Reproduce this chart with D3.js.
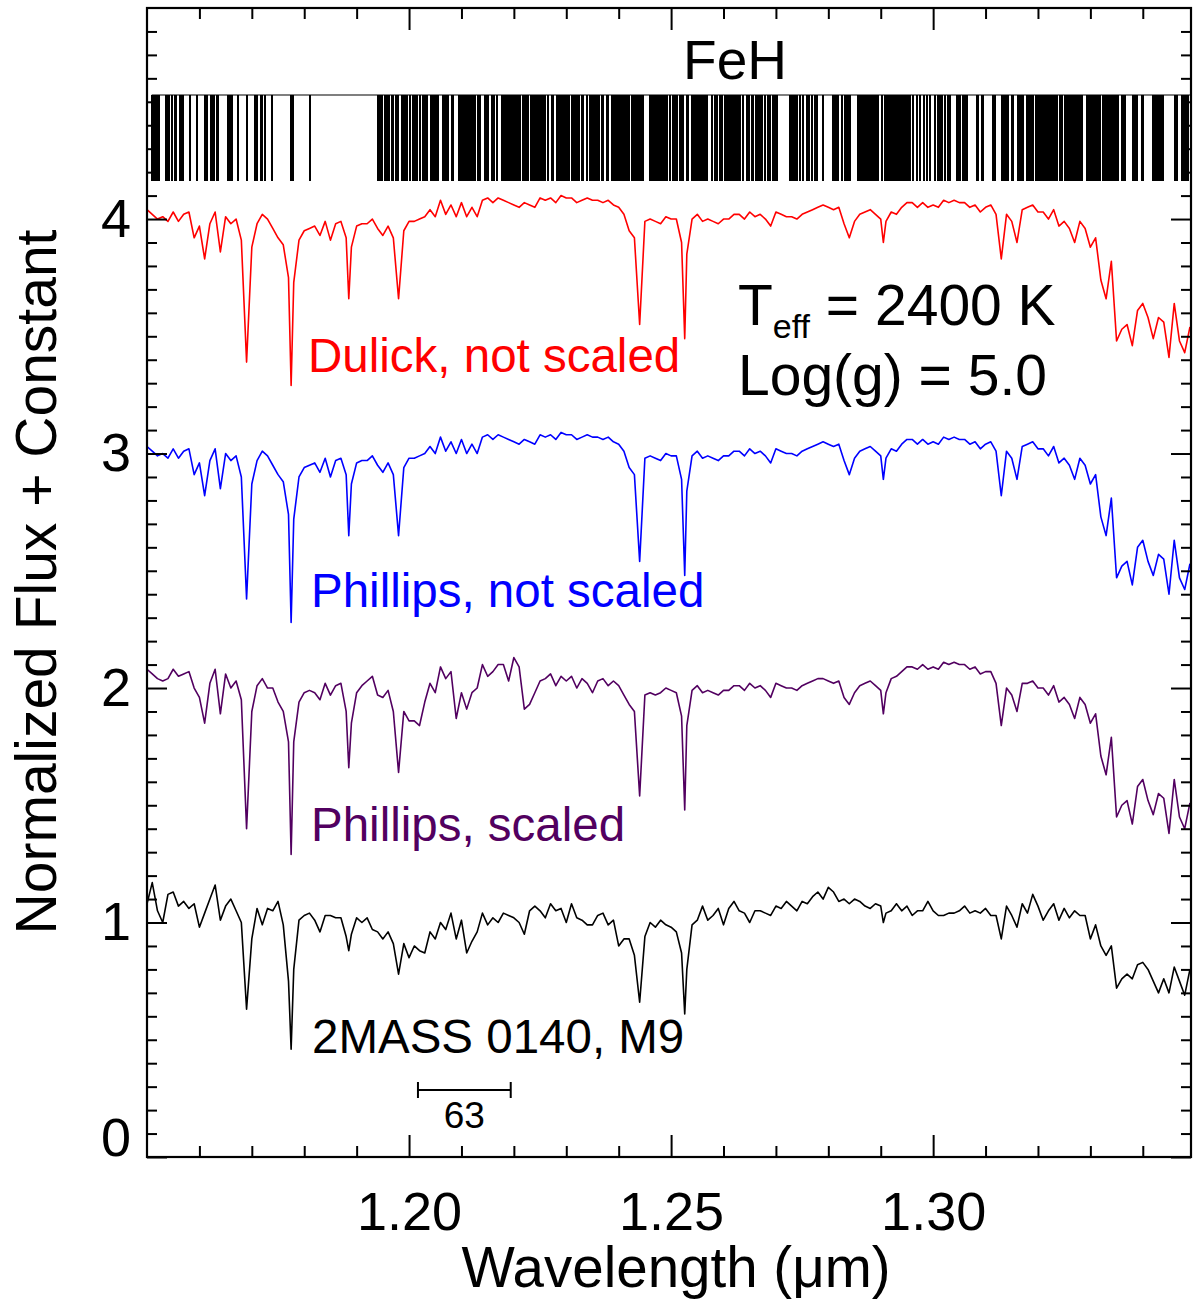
<!DOCTYPE html>
<html>
<head>
<meta charset="utf-8">
<script src="https://cdn.jsdelivr.net/npm/d3@7/dist/d3.min.js"></script>
<style>
  body { margin: 0; background: #fff; }
  svg text { font-family: "Liberation Sans", Arial, Helvetica, sans-serif; fill: #000; }
</style>
</head>
<body>
<svg width="1199" height="1303"></svg>
<script>
// wavelength grid (micron), shared by the four spectra
const wave = [
  1.150, 1.151, 1.152, 1.153, 1.154, 1.155, 1.156, 1.157, 1.158, 1.159,
  1.160, 1.161, 1.162, 1.163, 1.164, 1.165, 1.166, 1.167, 1.168, 1.169,
  1.170, 1.171, 1.172, 1.173, 1.174, 1.175, 1.176, 1.177, 1.1775, 1.178, 1.179,
  1.180, 1.181, 1.182, 1.183, 1.184, 1.185, 1.186, 1.187, 1.188, 1.1885, 1.189,
  1.190, 1.191, 1.192, 1.193, 1.194, 1.195, 1.196, 1.197, 1.198, 1.199,
  1.200, 1.201, 1.202, 1.203, 1.204, 1.205, 1.206, 1.207, 1.208, 1.209,
  1.210, 1.211, 1.212, 1.213, 1.214, 1.215, 1.216, 1.217, 1.218, 1.219,
  1.220, 1.221, 1.222, 1.223, 1.224, 1.225, 1.226, 1.227, 1.228, 1.229,
  1.230, 1.231, 1.232, 1.233, 1.234, 1.235, 1.236, 1.237, 1.238, 1.239,
  1.240, 1.241, 1.242, 1.243, 1.244, 1.245, 1.246, 1.247, 1.248, 1.249,
  1.250, 1.251, 1.252, 1.2526, 1.253, 1.254, 1.255, 1.256, 1.257, 1.258, 1.259,
  1.260, 1.261, 1.262, 1.263, 1.264, 1.265, 1.266, 1.267, 1.268, 1.269,
  1.270, 1.271, 1.272, 1.273, 1.274, 1.275, 1.276, 1.277, 1.278, 1.279,
  1.280, 1.281, 1.282, 1.283, 1.284, 1.285, 1.286, 1.287, 1.288, 1.289,
  1.290, 1.2905, 1.291, 1.292, 1.293, 1.294, 1.295, 1.296, 1.297, 1.298, 1.299,
  1.300, 1.301, 1.302, 1.303, 1.304, 1.305, 1.306, 1.307, 1.308, 1.309,
  1.310, 1.311, 1.312, 1.313, 1.314, 1.315, 1.316, 1.317, 1.318, 1.319,
  1.320, 1.321, 1.322, 1.323, 1.324, 1.325, 1.326, 1.327, 1.328, 1.329,
  1.330, 1.331, 1.332, 1.333, 1.334, 1.335, 1.336, 1.337, 1.338, 1.339,
  1.340, 1.341, 1.342, 1.343, 1.344, 1.345, 1.346, 1.347, 1.348, 1.349
];

const fluxDulick = [
  4.04, 4.02, 4.00, 4.01, 3.99, 4.03, 3.99, 4.02, 4.03, 3.92,
  3.97, 3.83, 3.98, 4.03, 3.86, 4.01, 3.98, 4.00, 3.91, 3.39,
  3.88, 3.98, 4.02, 4.00, 3.96, 3.92, 3.89, 3.75, 3.29, 3.73, 3.91,
  3.95, 3.96, 3.97, 3.93, 3.99, 3.91, 3.98, 3.99, 3.92, 3.66, 3.88,
  3.97, 3.98, 3.98, 4.00, 3.96, 3.93, 3.97, 3.92, 3.66, 3.95,
  3.99, 3.99, 4.00, 4.01, 4.04, 4.01, 4.08, 4.02, 4.06, 4.01,
  4.07, 4.01, 4.05, 4.01, 4.08, 4.09, 4.07, 4.09, 4.08, 4.07,
  4.06, 4.05, 4.07, 4.06, 4.05, 4.09, 4.08, 4.09, 4.07, 4.10,
  4.09, 4.09, 4.07, 4.08, 4.09, 4.08, 4.08, 4.07, 4.08, 4.06,
  4.05, 4.02, 3.95, 3.92, 3.55, 3.99, 4.00, 3.99, 3.98, 4.01,
  4.00, 4.00, 3.90, 3.49, 3.85, 4.00, 4.02, 3.99, 4.00, 3.99, 3.98,
  4.00, 4.00, 4.02, 4.02, 4.00, 4.03, 4.01, 4.02, 4.00, 3.97,
  4.03, 4.02, 4.01, 4.01, 4.00, 4.02, 4.03, 4.04, 4.05, 4.06,
  4.05, 4.04, 4.05, 3.98, 3.92, 3.99, 4.02, 4.03, 4.04, 4.02,
  4.00, 3.90, 3.99, 4.03, 4.02, 4.05, 4.07, 4.07, 4.05, 4.07, 4.05,
  4.06, 4.05, 4.08, 4.07, 4.08, 4.07, 4.07, 4.05, 4.06, 4.03,
  4.05, 4.06, 4.02, 3.83, 4.02, 3.99, 3.90, 4.04, 4.05, 4.06,
  4.03, 4.03, 4.00, 4.04, 3.97, 3.99, 3.96, 3.90, 3.99, 3.96,
  3.88, 3.92, 3.74, 3.66, 3.82, 3.48, 3.53, 3.55, 3.46, 3.61,
  3.64, 3.58, 3.49, 3.58, 3.56, 3.41, 3.64, 3.48, 3.43, 3.54
];

const fluxPhillips = [
  3.03, 3.01, 2.99, 3.00, 2.98, 3.02, 2.98, 3.01, 3.02, 2.91,
  2.96, 2.82, 2.97, 3.02, 2.85, 3.00, 2.97, 2.99, 2.90, 2.38,
  2.87, 2.97, 3.01, 2.99, 2.95, 2.91, 2.88, 2.74, 2.28, 2.72, 2.90,
  2.94, 2.95, 2.96, 2.92, 2.98, 2.90, 2.97, 2.98, 2.91, 2.65, 2.87,
  2.96, 2.97, 2.97, 2.99, 2.95, 2.92, 2.96, 2.91, 2.65, 2.94,
  2.98, 2.98, 2.99, 3.00, 3.03, 3.00, 3.07, 3.01, 3.05, 3.00,
  3.06, 3.00, 3.04, 3.00, 3.07, 3.08, 3.06, 3.08, 3.07, 3.06,
  3.05, 3.04, 3.06, 3.05, 3.04, 3.08, 3.07, 3.08, 3.06, 3.09,
  3.08, 3.08, 3.06, 3.07, 3.08, 3.07, 3.07, 3.06, 3.07, 3.05,
  3.04, 3.01, 2.94, 2.91, 2.54, 2.98, 2.99, 2.98, 2.97, 3.00,
  2.99, 2.99, 2.89, 2.48, 2.84, 2.99, 3.01, 2.98, 2.99, 2.98, 2.97,
  2.99, 2.99, 3.01, 3.01, 2.99, 3.02, 3.00, 3.01, 2.99, 2.96,
  3.02, 3.01, 3.00, 3.00, 2.99, 3.01, 3.02, 3.03, 3.04, 3.05,
  3.04, 3.03, 3.04, 2.97, 2.91, 2.98, 3.01, 3.02, 3.03, 3.01,
  2.99, 2.89, 2.98, 3.02, 3.01, 3.04, 3.06, 3.06, 3.04, 3.06, 3.04,
  3.05, 3.04, 3.07, 3.06, 3.07, 3.06, 3.06, 3.04, 3.05, 3.02,
  3.04, 3.05, 3.01, 2.82, 3.01, 2.98, 2.89, 3.03, 3.04, 3.05,
  3.02, 3.02, 2.99, 3.03, 2.96, 2.98, 2.95, 2.89, 2.98, 2.95,
  2.87, 2.91, 2.73, 2.65, 2.81, 2.47, 2.52, 2.54, 2.44, 2.60,
  2.63, 2.54, 2.48, 2.57, 2.55, 2.40, 2.63, 2.47, 2.42, 2.53
];

const fluxScaled = [
  2.08, 2.06, 2.04, 2.03, 2.04, 2.08, 2.05, 2.06, 2.07, 2.00,
  1.96, 1.85, 2.02, 2.08, 1.89, 2.06, 2.00, 2.03, 1.95, 1.40,
  1.90, 2.01, 2.04, 2.00, 2.00, 1.94, 1.90, 1.77, 1.29, 1.77, 1.94,
  1.98, 1.99, 1.98, 1.95, 2.02, 1.97, 2.01, 2.02, 1.90, 1.66, 1.85,
  1.98, 2.01, 2.03, 2.05, 1.97, 1.96, 1.99, 1.90, 1.64, 1.90,
  1.86, 1.86, 1.84, 1.94, 2.02, 1.98, 2.09, 2.04, 2.07, 1.87,
  1.98, 1.91, 1.98, 2.00, 2.10, 2.05, 2.07, 2.10, 2.10, 2.03,
  2.13, 2.09, 1.91, 1.93, 1.98, 2.03, 2.04, 2.06, 2.01, 2.05,
  2.03, 2.05, 2.00, 2.04, 2.02, 1.98, 2.03, 2.04, 2.01, 2.03,
  2.01, 1.97, 1.93, 1.90, 1.54, 1.97, 1.98, 1.97, 1.98, 2.00,
  1.99, 1.98, 1.88, 1.48, 1.84, 1.99, 2.01, 1.98, 1.99, 1.98, 1.97,
  1.99, 1.99, 2.01, 2.01, 1.99, 2.02, 2.00, 2.01, 1.99, 1.96,
  2.02, 2.01, 2.00, 2.00, 1.99, 2.01, 2.02, 2.03, 2.04, 2.04,
  2.03, 2.02, 2.03, 1.96, 1.93, 1.98, 2.01, 2.02, 2.03, 2.01,
  1.99, 1.89, 1.98, 2.04, 2.05, 2.07, 2.09, 2.09, 2.08, 2.10, 2.08,
  2.09, 2.08, 2.11, 2.10, 2.11, 2.10, 2.10, 2.08, 2.09, 2.06,
  2.07, 2.07, 2.02, 1.84, 2.00, 1.97, 1.90, 2.02, 2.02, 2.03,
  2.00, 2.00, 1.97, 2.01, 1.94, 1.96, 1.93, 1.87, 1.96, 1.93,
  1.85, 1.89, 1.71, 1.63, 1.79, 1.45, 1.50, 1.52, 1.42, 1.58,
  1.61, 1.52, 1.46, 1.55, 1.53, 1.38, 1.61, 1.45, 1.40, 1.51
];

const fluxObserved = [
  1.08, 1.17, 1.05, 1.00, 1.12, 1.13, 1.07, 1.09, 1.06, 1.08,
  0.98, 1.04, 1.10, 1.16, 1.01, 1.07, 1.10, 1.05, 1.00, 0.63,
  0.93, 1.06, 0.99, 1.06, 1.05, 1.09, 0.99, 0.75, 0.46, 0.80, 1.01,
  1.03, 1.04, 1.01, 0.96, 1.03, 1.03, 1.02, 1.02, 0.94, 0.88, 0.95,
  1.02, 1.00, 1.02, 0.97, 0.96, 0.93, 0.96, 0.91, 0.78, 0.91,
  0.85, 0.90, 0.88, 0.87, 0.96, 0.93, 1.00, 0.97, 1.04, 0.93,
  1.01, 0.87, 0.92, 0.96, 1.04, 0.99, 1.02, 1.00, 1.04, 1.03,
  1.02, 1.00, 0.95, 1.05, 1.07, 1.05, 1.02, 1.08, 1.05, 1.06,
  1.00, 1.08, 1.02, 1.01, 0.99, 0.99, 1.03, 1.04, 0.99, 1.01,
  0.90, 0.93, 0.93, 0.86, 0.66, 0.94, 1.00, 0.98, 1.01, 0.99,
  0.98, 0.96, 0.87, 0.61, 0.80, 0.99, 1.01, 1.07, 1.01, 1.03, 1.06,
  0.99, 1.06, 1.09, 1.05, 1.04, 1.00, 1.05, 1.05, 1.04, 1.03,
  1.07, 1.06, 1.09, 1.07, 1.05, 1.09, 1.08, 1.11, 1.13, 1.10,
  1.15, 1.13, 1.09, 1.10, 1.08, 1.10, 1.09, 1.07, 1.06, 1.08,
  1.07, 1.00, 1.04, 1.05, 1.08, 1.05, 1.07, 1.03, 1.05, 1.05, 1.09,
  1.05, 1.03, 1.03, 1.04, 1.04, 1.05, 1.07, 1.04, 1.05, 1.04,
  1.06, 1.03, 1.03, 0.93, 1.07, 1.03, 0.98, 1.08, 1.04, 1.12,
  1.07, 1.01, 1.05, 1.08, 1.01, 1.06, 1.02, 1.05, 1.03, 1.03,
  0.93, 0.99, 0.90, 0.86, 0.90, 0.72, 0.76, 0.78, 0.76, 0.82,
  0.83, 0.80, 0.75, 0.70, 0.76, 0.70, 0.81, 0.75, 0.69, 0.80
];

// FeH line positions (micron)
const fehLines = [
  1.15090, 1.15120, 1.15153, 1.15185, 1.15229, 1.15363, 1.15387, 1.15426,
  1.15471, 1.15534, 1.15553, 1.15630, 1.15662, 1.15693, 1.15821, 1.15948,
  1.16107, 1.16139, 1.16221, 1.16254, 1.16279, 1.16330, 1.16361, 1.16552,
  1.16584, 1.16616, 1.16742, 1.16914, 1.17061, 1.17093, 1.17170, 1.17200,
  1.17252, 1.17380, 1.17742, 1.17792, 1.18111,
  1.19414, 1.19447, 1.19479, 1.19542, 1.19574, 1.19624, 1.19670, 1.19700,
  1.19752, 1.19796, 1.19861, 1.19891, 1.19924, 1.19956, 1.20019, 1.20071,
  1.20115, 1.20147, 1.20210, 1.20261, 1.20305, 1.20349, 1.20414, 1.20452,
  1.20496, 1.20529, 1.20559, 1.20643, 1.20668, 1.20706, 1.20750, 1.20815,
  1.20845, 1.20960, 1.20987, 1.21011, 1.21036, 1.21069, 1.21101, 1.21132,
  1.21164, 1.21197, 1.21227, 1.21260, 1.21323, 1.21355, 1.21450, 1.21483,
  1.21513, 1.21578, 1.21628, 1.21674, 1.21769, 1.21800, 1.21832, 1.21864,
  1.21895, 1.21927, 1.21960, 1.21979, 1.22004, 1.22042, 1.22067, 1.22086,
  1.22118, 1.22181, 1.22214, 1.22246, 1.22277, 1.22323, 1.22361, 1.22405,
  1.22437, 1.22468,
  1.22500, 1.22519, 1.22538, 1.22564, 1.22595, 1.22659, 1.22723, 1.22754,
  1.22818, 1.22850, 1.22882, 1.22913, 1.22945, 1.22977, 1.23009, 1.23060,
  1.23104, 1.23136, 1.23168, 1.23200, 1.23251, 1.23295, 1.23327, 1.23391,
  1.23454, 1.23486, 1.23518, 1.23550, 1.23581, 1.23632, 1.23677, 1.23709,
  1.23772, 1.23804, 1.23868, 1.23900, 1.23931, 1.23963, 1.23995, 1.24027,
  1.24059, 1.24090, 1.24122, 1.24167, 1.24205, 1.24249, 1.24281, 1.24313,
  1.24345, 1.24377, 1.24408, 1.24440, 1.24472, 1.24599, 1.24631, 1.24663,
  1.24695, 1.24726, 1.24758, 1.24790, 1.24822, 1.24854, 1.24885, 1.24930,
  1.24981, 1.25045, 1.25076, 1.25108, 1.25172, 1.25204, 1.25235, 1.25299,
  1.25331, 1.25394, 1.25426, 1.25458, 1.25490, 1.25522, 1.25553, 1.25585,
  1.25617, 1.25649, 1.25681, 1.25776, 1.25840, 1.25871, 1.25935, 1.25967,
  1.26031, 1.26062, 1.26094, 1.26126, 1.26158, 1.26190, 1.26221, 1.26253,
  1.26285, 1.26317, 1.26380, 1.26444, 1.26495, 1.26539, 1.26571, 1.26622,
  1.26667, 1.26698, 1.26730, 1.26794, 1.26858, 1.26889, 1.26953, 1.26985,
  1.27029, 1.27271, 1.27303, 1.27335, 1.27366, 1.27411, 1.27462, 1.27525,
  1.27589, 1.27640, 1.27684, 1.27748, 1.27780, 1.27907, 1.28085, 1.28117,
  1.28149, 1.28193, 1.28257, 1.28321, 1.28352, 1.28384, 1.28416, 1.28575,
  1.28607, 1.28639, 1.28670, 1.28702, 1.28734, 1.28766, 1.28798, 1.28830,
  1.28861, 1.28893, 1.28925, 1.28957, 1.29020, 1.29084, 1.29116, 1.29148,
  1.29179, 1.29211, 1.29243, 1.29275, 1.29307, 1.29338, 1.29370, 1.29402,
  1.29434, 1.29466, 1.29497, 1.29529, 1.29561, 1.29625, 1.29688, 1.29752,
  1.29816, 1.29879, 1.29943, 1.30038, 1.30102,
  1.30133, 1.30165, 1.30229, 1.30292, 1.30324, 1.30451, 1.30483, 1.30515,
  1.30579, 1.30610, 1.30642, 1.30833, 1.30865, 1.30928, 1.30960, 1.31151,
  1.31183, 1.31310, 1.31342, 1.31374, 1.31405, 1.31437, 1.31501, 1.31533,
  1.31628, 1.31660, 1.31692, 1.31723, 1.31787, 1.31819, 1.31851, 1.31882,
  1.31914, 1.31965, 1.31997, 1.32029, 1.32060, 1.32092, 1.32124, 1.32156,
  1.32188, 1.32220, 1.32251, 1.32283, 1.32328, 1.32359, 1.32423, 1.32455,
  1.32518, 1.32550, 1.32582, 1.32614, 1.32646, 1.32677, 1.32709, 1.32741,
  1.32773, 1.32805, 1.32836, 1.32932, 1.32964, 1.32995, 1.33027, 1.33059,
  1.33091, 1.33123, 1.33154, 1.33186, 1.33237, 1.33269, 1.33301, 1.33332,
  1.33364, 1.33396, 1.33428, 1.33460, 1.33491, 1.33523, 1.33599, 1.33631,
  1.33663, 1.33822, 1.33854, 1.33886, 1.33981, 1.34013, 1.34204, 1.34236,
  1.34267, 1.34299, 1.34331, 1.34363, 1.34395, 1.34617, 1.34649, 1.34744,
  1.34776, 1.34808, 1.34840, 1.34871
];

const seriesNames = ['Dulick, not scaled', 'Phillips, not scaled', 'Phillips, scaled', '2MASS 0140, M9'];
const seriesColors = ['#ff0000', '#0000ff', '#520060', '#000000'];
const seriesFlux = [fluxDulick, fluxPhillips, fluxScaled, fluxObserved];

const xMajorTicks = [1.20, 1.25, 1.30];
const xMinorTicks = [1.16, 1.17, 1.18, 1.19, 1.21, 1.22, 1.23, 1.24, 1.26, 1.27, 1.28, 1.29, 1.31, 1.32, 1.33, 1.34];
const yMajorTicks = [0, 1, 2, 3, 4];
const yMinorTicks = [0.1, 0.2, 0.3, 0.4, 0.5, 0.6, 0.7, 0.8, 0.9, 1.1, 1.2, 1.3, 1.4, 1.5, 1.6, 1.7, 1.8, 1.9,
  2.1, 2.2, 2.3, 2.4, 2.5, 2.6, 2.7, 2.8, 2.9, 3.1, 3.2, 3.3, 3.4, 3.5, 3.6, 3.7, 3.8, 3.9,
  4.1, 4.2, 4.3, 4.4, 4.5, 4.6, 4.7, 4.8];

// resolution element marker
const resBar = [1.2017, 1.2194];
const resLabel = '63';

// ---- layout ----
const svg = d3.select('svg');
const plotLeft = 147, plotRight = 1191, plotTop = 8, plotBottom = 1157;

const x = d3.scaleLinear().domain([1.15, 1.3492]).range([plotLeft, plotRight]);
const y = d3.scaleLinear().domain([0, 4.9]).range([plotBottom, plotTop]);

svg.append('defs').append('clipPath').attr('id', 'plot-clip')
  .append('rect')
  .attr('x', plotLeft).attr('y', plotTop)
  .attr('width', plotRight - plotLeft).attr('height', plotBottom - plotTop);

// FeH band
const bandTop = 95, bandBottom = 181;
const band = svg.append('g').attr('class', 'feh');
band.append('line')
  .attr('x1', x(fehLines[0])).attr('x2', plotRight)
  .attr('y1', bandTop).attr('y2', bandTop)
  .attr('stroke', '#000').attr('stroke-width', 1.2);
band.selectAll('line.feh-line')
  .data(fehLines)
  .enter().append('line')
  .attr('class', 'feh-line')
  .attr('x1', d => x(d)).attr('x2', d => x(d))
  .attr('y1', bandTop).attr('y2', bandBottom)
  .attr('stroke', '#000').attr('stroke-width', 2)
  .attr('shape-rendering', 'crispEdges');
svg.append('text')
  .attr('x', 735).attr('y', 79)
  .attr('text-anchor', 'middle')
  .attr('font-size', 55)
  .text('FeH');

// spectra
const line = d3.line()
  .x((d, i) => x(wave[i]))
  .y(d => y(d));

svg.append('g')
  .attr('class', 'spectra')
  .attr('clip-path', 'url(#plot-clip)')
  .selectAll('path')
  .data(seriesFlux)
  .enter().append('path')
  .attr('d', d => line(d))
  .attr('fill', 'none')
  .attr('stroke', (d, i) => seriesColors[i])
  .attr('stroke-width', 1.6)
  .attr('stroke-linejoin', 'round');

// series labels
const labelPos = [[308, 372], [311, 607], [311, 841], [312, 1053]];
svg.append('g')
  .selectAll('text')
  .data(seriesNames)
  .enter().append('text')
  .attr('x', (d, i) => labelPos[i][0])
  .attr('y', (d, i) => labelPos[i][1])
  .attr('font-size', 47.5)
  .style('fill', (d, i) => seriesColors[i])
  .text(d => d);

// model parameters
const teff = svg.append('text').attr('x', 738).attr('y', 325).attr('font-size', 57);
teff.append('tspan').text('T');
teff.append('tspan').attr('font-size', 34).attr('dy', 13).text('eff');
teff.append('tspan').attr('dy', -13).text(' = 2400 K');
svg.append('text').attr('x', 738).attr('y', 395).attr('font-size', 57).text('Log(g) = 5.0');

// resolution bar
const resY = 1090;
const rb = svg.append('g').attr('stroke', '#000').attr('stroke-width', 2);
rb.append('line').attr('x1', x(resBar[0])).attr('x2', x(resBar[1])).attr('y1', resY).attr('y2', resY);
resBar.forEach(w => {
  rb.append('line').attr('x1', x(w)).attr('x2', x(w)).attr('y1', resY - 8).attr('y2', resY + 8);
});
svg.append('text')
  .attr('x', (x(resBar[0]) + x(resBar[1])) / 2).attr('y', 1128)
  .attr('text-anchor', 'middle').attr('font-size', 37)
  .text(resLabel);

// axes
const styleAxis = (g) => {
  g.select('.domain').remove();
  g.selectAll('.tick line').attr('stroke', '#000').attr('stroke-width', 2);
  g.selectAll('.tick text').attr('font-size', 54).attr('fill', '#000')
    .style('font-family', '"Liberation Sans", Arial, sans-serif');
};

svg.append('g').attr('transform', `translate(0,${plotBottom})`)
  .call(d3.axisBottom(x).tickValues(xMinorTicks).tickSize(-11).tickFormat(''))
  .call(styleAxis);
svg.append('g').attr('transform', `translate(0,${plotBottom})`)
  .call(d3.axisBottom(x).tickValues(xMajorTicks).tickSize(-22).tickPadding(35).tickFormat(d3.format('.2f')))
  .call(styleAxis);
svg.append('g').attr('transform', `translate(0,${plotTop})`)
  .call(d3.axisTop(x).tickValues(xMinorTicks).tickSize(-11).tickFormat(''))
  .call(styleAxis);
svg.append('g').attr('transform', `translate(0,${plotTop})`)
  .call(d3.axisTop(x).tickValues(xMajorTicks).tickSize(-22).tickFormat(''))
  .call(styleAxis);

svg.append('g').attr('transform', `translate(${plotLeft},0)`)
  .call(d3.axisLeft(y).tickValues(yMinorTicks).tickSize(-10).tickFormat(''))
  .call(styleAxis);
const yMajor = svg.append('g').attr('transform', `translate(${plotLeft},0)`)
  .call(d3.axisLeft(y).tickValues(yMajorTicks).tickSize(-20).tickPadding(16).tickFormat(d3.format('d')))
  .call(styleAxis);
yMajor.selectAll('.tick').filter(d => d === 0).select('text').attr('y', -19);
svg.append('g').attr('transform', `translate(${plotRight},0)`)
  .call(d3.axisRight(y).tickValues(yMinorTicks).tickSize(-10).tickFormat(''))
  .call(styleAxis);
svg.append('g').attr('transform', `translate(${plotRight},0)`)
  .call(d3.axisRight(y).tickValues(yMajorTicks).tickSize(-20).tickFormat(''))
  .call(styleAxis);

// frame
svg.append('rect')
  .attr('x', plotLeft).attr('y', plotTop)
  .attr('width', plotRight - plotLeft).attr('height', plotBottom - plotTop)
  .attr('fill', 'none').attr('stroke', '#000').attr('stroke-width', 2.2);

// axis titles
svg.append('text')
  .attr('x', (plotLeft + plotRight) / 2 + 7).attr('y', 1287)
  .attr('text-anchor', 'middle').attr('font-size', 56.5)
  .text('Wavelength (μm)');
svg.append('text')
  .attr('transform', 'translate(56,582) rotate(-90)')
  .attr('text-anchor', 'middle').attr('font-size', 57)
  .text('Normalized Flux + Constant');
</script>
</body>
</html>
